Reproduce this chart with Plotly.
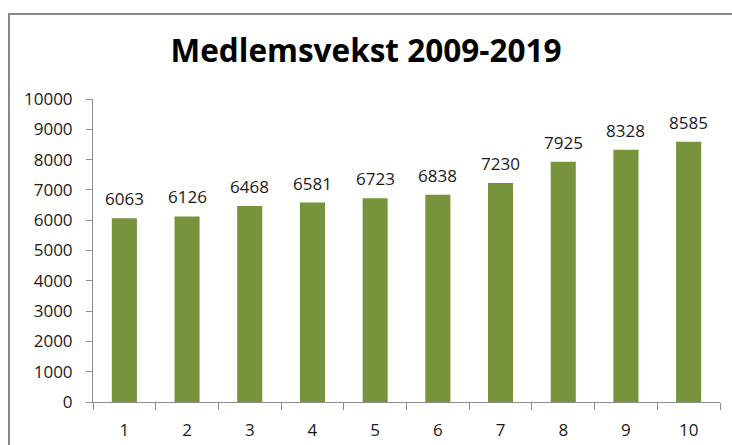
import plotly.graph_objects as go

categories = ["1", "2", "3", "4", "5", "6", "7", "8", "9", "10"]
members = [6063, 6126, 6468, 6581, 6723, 6838, 7230, 7925, 8328, 8585]
y_ticks = list(range(0, 10001, 1000))
y_tick_labels = [str(v) for v in y_ticks]
title_text = "Medlemsvekst 2009-2019"

FONT = "Open Sans"
W, H = 732, 445
L, R, T, B = 93, 12, 99, 43
pw = W - L - R
ph = H - T - B

fig = go.Figure(go.Bar(
    x=categories, y=members,
    marker=dict(color="#77933C", line=dict(width=0)),
    hoverinfo="x+y",
))

# value labels above the bars, anchored to the category positions on the axis
for i, v in enumerate(members):
    fig.add_annotation(x=i, y=v, text=str(v), showarrow=False,
                       yanchor="bottom", yshift=6,
                       font=dict(family=FONT, size=17, color="#1a1a1a"))

def px_x(p):
    return (p - L) / pw

def px_y(p):
    return (H - B - p) / ph

fig.update_layout(
    width=W, height=H,
    margin=dict(l=L, r=R, t=T, b=B, autoexpand=False),
    paper_bgcolor="white", plot_bgcolor="white",
    bargap=0.6,
    showlegend=False,
    title=dict(text="<b>" + title_text + "</b>", x=0.5, xanchor="center",
               y=1 - 51 / H, yanchor="middle",
               font=dict(family=FONT, size=31.5, color="black")),
    font=dict(family=FONT, size=17, color="#1a1a1a"),
    xaxis=dict(type="category", showgrid=False, showline=True, linecolor="#8c8c8c",
               linewidth=1, ticks="outside", tickson="boundaries", ticklen=7,
               tickcolor="#8c8c8c", tickfont=dict(family=FONT, size=17, color="#1a1a1a"),
               ticklabelstandoff=13, automargin=False),
    yaxis=dict(range=[0, 10000], tickvals=y_ticks, ticktext=y_tick_labels,
               showgrid=False, showline=True,
               linecolor="#8c8c8c", linewidth=1, ticks="outside", ticklen=6,
               tickcolor="#8c8c8c", tickfont=dict(family=FONT, size=17, color="#1a1a1a"),
               ticklabelstandoff=10, zeroline=False, automargin=False),
    shapes=[dict(type="rect", xref="paper", yref="paper",
                 x0=px_x(9), x1=px_x(760), y0=px_y(470), y1=px_y(14),
                 line=dict(color="#878787", width=2), fillcolor="rgba(0,0,0,0)",
                 layer="below")],
)

fig.write_html("out.html", config={"displayModeBar": False},
               post_script="document.body.style.margin='0';document.body.style.overflow='hidden';")
